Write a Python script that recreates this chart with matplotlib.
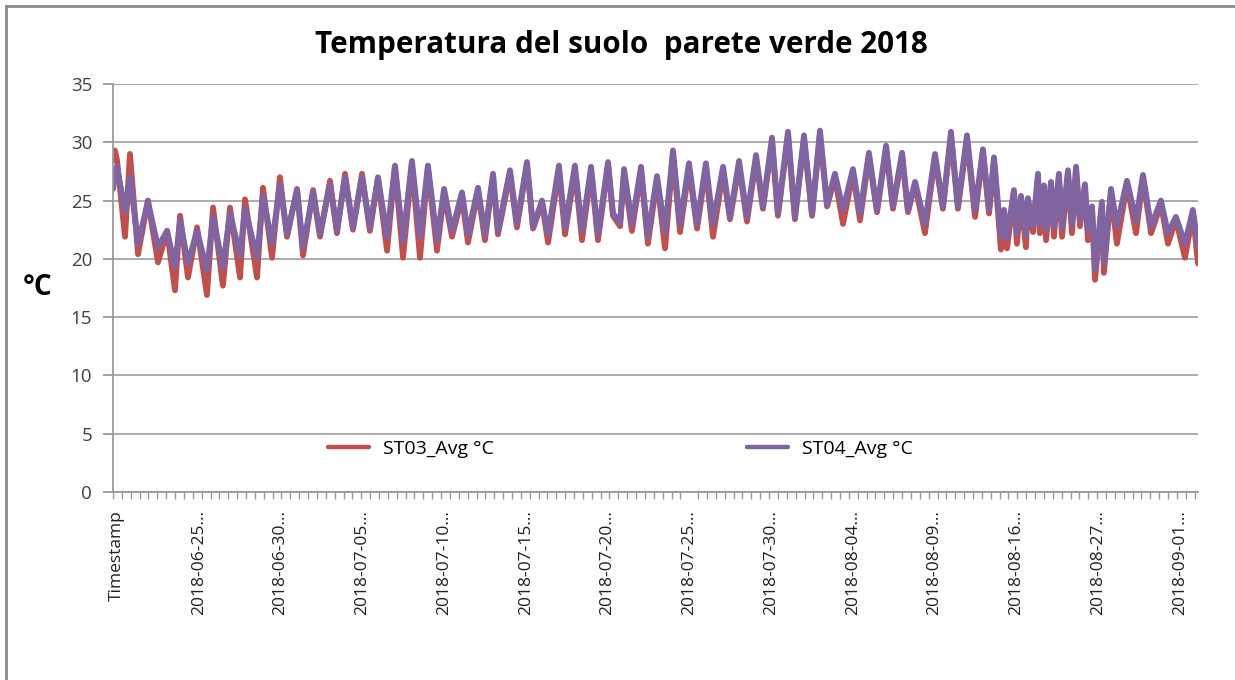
import matplotlib
matplotlib.use("Agg")
import matplotlib.pyplot as plt
from matplotlib.lines import Line2D
import numpy as np

# ---- data (position in days-equivalent along the categorical axis) ----
t = [0.00, 0.12, 0.24, 0.73, 1.03, 1.52, 2.12, 2.73, 3.28, 3.76, 4.07, 4.55, 5.10, 5.70,
     6.07, 6.67, 7.10, 7.71, 8.01, 8.74, 9.10, 9.65, 10.13, 10.56, 11.17, 11.53, 12.14,
     12.56, 13.17, 13.59, 14.08, 14.56, 15.11, 15.59, 16.08, 16.63, 17.11, 17.60, 18.14,
     18.63, 19.11, 19.66, 20.09, 20.57, 21.18, 21.54, 22.15, 22.57, 23.06, 23.36, 24.09,
     24.51, 25.12, 25.49, 26.03, 26.40, 27.06, 27.43, 28.03, 28.46, 29.01, 29.43, 30.04,
     30.34, 30.77, 31.01, 31.49, 32.04, 32.46, 33.01, 33.50, 33.98, 34.41, 34.95, 35.44,
     35.98, 36.41, 37.02, 37.44, 37.99, 38.47, 39.02, 39.44, 39.99, 40.35, 40.96, 41.38,
     41.93, 42.42, 42.90, 43.33, 43.81, 44.30, 44.90, 45.33, 45.87, 46.36, 46.91, 47.33,
     47.88, 48.24, 48.67, 49.27, 49.88, 50.36, 50.85, 51.27, 51.82, 52.31, 52.79, 53.16,
     53.46, 53.88, 54.07, 54.25, 54.67, 54.85, 55.10, 55.40, 55.52, 55.83, 56.13, 56.25,
     56.49, 56.62, 56.92, 57.10, 57.40, 57.59, 57.95, 58.19, 58.44, 58.68, 58.98, 59.16,
     59.41, 59.59, 60.01, 60.13, 60.56, 60.92, 61.53, 62.08, 62.50, 62.99, 63.59, 64.02,
     64.50, 65.05, 65.53, 65.84]

st03 = [28.5, 29.3, 28.5, 21.9, 29.0, 20.4, 25.0, 19.7, 22.4, 17.3, 23.7, 18.4, 22.7, 16.9,
        24.4, 17.7, 24.4, 18.4, 25.1, 18.4, 26.1, 20.1, 27.0, 21.9, 26.0, 20.3, 25.9,
        21.9, 26.7, 22.2, 27.3, 22.5, 27.3, 22.4, 26.9, 20.7, 27.9, 20.1, 28.1,
        20.1, 27.8, 20.7, 25.6, 21.9, 25.3, 21.4, 25.8, 21.6, 27.0, 22.1, 27.3,
        22.7, 28.0, 22.6, 24.8, 21.4, 27.6, 22.1, 27.6, 21.6, 27.5, 21.6, 28.0,
        23.7, 22.8, 27.3, 22.4, 27.5, 21.3, 26.8, 20.9, 28.9, 22.3, 27.8, 22.6,
        27.8, 21.9, 27.5, 23.4, 28.0, 23.2, 28.5, 24.3, 30.0, 23.7, 30.5, 23.4,
        30.2, 23.7, 30.6, 24.5, 27.0, 23.0, 27.4, 23.3, 28.8, 24.0, 29.4, 24.3,
        28.8, 24.0, 26.4, 22.2, 28.7, 24.3, 30.5, 24.3, 30.2, 23.6, 29.1, 23.9,
        28.4, 20.8, 23.9, 20.9, 25.6, 21.3, 25.1, 21.0, 24.9, 22.3, 27.0, 22.2,
        26.0, 21.6, 26.3, 21.9, 27.0, 21.9, 27.3, 22.2, 27.6, 22.8, 26.1, 21.6,
        24.2, 18.2, 24.6, 18.8, 25.7, 21.3, 26.4, 22.2, 26.9, 22.2, 24.7, 21.3,
        23.4, 20.1, 23.9, 19.6]

st04 = [26.0, 27.2, 27.9, 24.1, 27.0, 21.3, 24.9, 21.0, 22.4, 19.3, 23.3, 19.6, 22.4, 19.0,
        23.6, 19.3, 23.9, 20.3, 24.3, 20.1, 25.4, 21.3, 26.4, 22.1, 25.9, 21.0, 25.7,
        22.1, 26.4, 22.4, 27.0, 22.7, 27.0, 22.7, 27.0, 21.9, 28.0, 21.6, 28.4,
        21.9, 28.0, 21.6, 26.0, 22.4, 25.7, 22.1, 26.1, 22.1, 27.3, 22.4, 27.6,
        23.0, 28.3, 22.7, 25.0, 22.1, 28.0, 22.7, 28.0, 22.4, 27.9, 22.1, 28.3,
        23.9, 23.1, 27.7, 23.0, 27.9, 21.9, 27.1, 22.3, 29.3, 23.0, 28.2, 23.0,
        28.2, 23.0, 27.9, 23.6, 28.4, 23.6, 28.9, 24.5, 30.4, 23.9, 30.9, 23.6,
        30.6, 23.9, 31.0, 24.7, 27.3, 24.2, 27.7, 23.9, 29.1, 24.2, 29.7, 24.5,
        29.1, 24.2, 26.6, 23.0, 29.0, 24.5, 30.9, 24.5, 30.6, 24.2, 29.4, 24.2,
        28.7, 21.9, 24.2, 21.8, 25.9, 22.2, 25.4, 22.0, 25.2, 22.8, 27.3, 23.0,
        26.3, 22.5, 26.6, 22.7, 27.3, 22.7, 27.6, 23.0, 27.9, 23.3, 26.4, 22.4,
        24.5, 19.1, 24.9, 19.6, 26.0, 22.8, 26.7, 23.3, 27.2, 22.8, 25.0, 22.2,
        23.6, 21.3, 24.2, 21.0]

x_labels = ["Timestamp", "2018-06-25…", "2018-06-30…", "2018-07-05…", "2018-07-10…",
            "2018-07-15…", "2018-07-20…", "2018-07-25…", "2018-07-30…", "2018-08-04…",
            "2018-08-09…", "2018-08-16…", "2018-08-27…", "2018-09-01…"]
y_ticks = [0, 5, 10, 15, 20, 25, 30, 35]
series_names = ["ST03_Avg °C", "ST04_Avg °C"]

FONT = "Open Sans"
plt.rcParams["font.family"] = [FONT, "DejaVu Sans"]

fig = plt.figure(figsize=(12.35, 6.8), dpi=100)
ax = fig.add_axes([113/1235, 1-492/680, (1198-113)/1235, (492-84)/680])

l1, = ax.plot(t, st03, color="#C0504D", lw=4.2, solid_joinstyle="round", solid_capstyle="round")
l2, = ax.plot(t, st04, color="#8064A2", lw=4.2, solid_joinstyle="round", solid_capstyle="round")

ax.set_xlim(0, 65.84)
ax.set_ylim(0, 35)
ax.set_yticks(y_ticks)
ax.yaxis.grid(True, color="#A6A6A6", lw=1.3)
ax.set_axisbelow(True)
for s in ["top", "right"]:
    ax.spines[s].set_visible(False)
for s in ["left", "bottom"]:
    ax.spines[s].set_color("#9A9A9A")
    ax.spines[s].set_linewidth(1.3)

label_pos = [0.25 + 4.96 * k for k in range(len(x_labels))]
ax.set_xticks(label_pos)
ax.set_xticklabels(x_labels, rotation=90, fontsize=12.5, color="#202020")
ax.set_xticks(np.arange(0, 65.84, 0.538), minor=True)
ax.tick_params(axis="x", which="major", length=0, pad=13)
ax.tick_params(axis="x", which="minor", length=5, color="#9A9A9A", width=1)
ax.tick_params(axis="y", which="major", length=7, color="#9A9A9A", width=1.3,
               labelsize=13.5, labelcolor="#404040", pad=8)

leg = ax.legend([l1, l2], series_names, ncol=2, frameon=False, loc="center left",
                bbox_to_anchor=((328-113)/1085, (492-449)/408), fontsize=14,
                handlelength=2.1, handletextpad=0.75, columnspacing=13.0,
                borderpad=0, borderaxespad=0)
for lh in leg.get_lines():
    lh.set_linewidth(3.2)

fig.text(0.503, 1-45/680, "Temperatura del suolo  parete verde 2018", ha="center",
         va="center", fontsize=21.3, fontweight="bold", color="#000000")
fig.text(38/1235, 1-287/680, "°C", ha="center", va="center", fontsize=20,
         fontweight="bold", color="#000000")

fig.add_artist(Line2D([6/1235, 6/1235], [0, 1-6/680], transform=fig.transFigure,
                      color="#8C8C8C", lw=2))
fig.add_artist(Line2D([6/1235, 1], [1-6/680, 1-6/680], transform=fig.transFigure,
                      color="#8C8C8C", lw=2))

fig.savefig("out.png", dpi=100)
